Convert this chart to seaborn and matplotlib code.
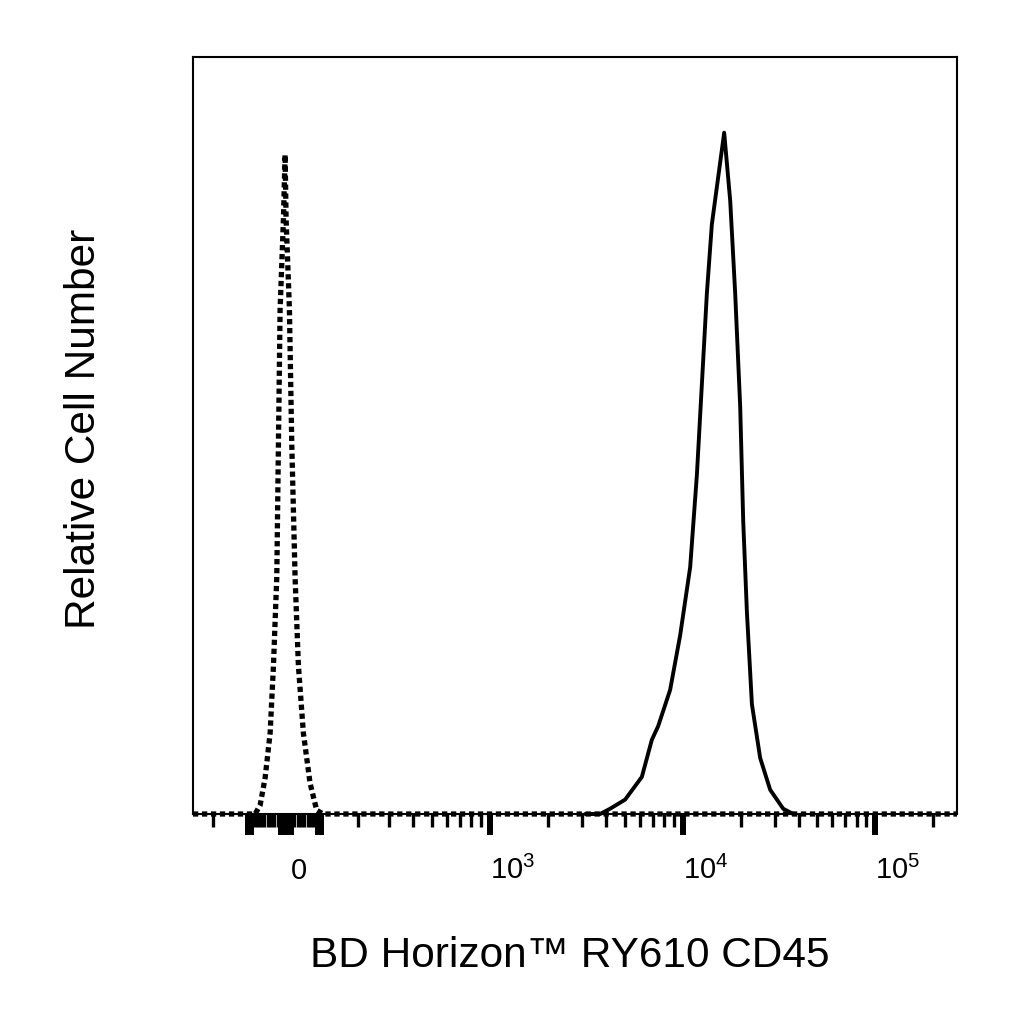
import numpy as np
import pandas as pd
import matplotlib
matplotlib.use("Agg")
import matplotlib.pyplot as plt
import seaborn as sns

# isotype control (dotted) - fluorescence values and relative counts
control_x = [-295, -108, -93, -78, -63, -53, -43, -38, -33, -23, -18,
             -15, -5, 2, 12, 22, 37, 57, 77, 96, 266000]
control_y = [0, 0, 1.2, 4.8, 10.7, 19.6, 31.3, 49.0, 66.7, 78.6, 87.1,
             78.6, 66.7, 49.0, 31.3, 19.6, 10.7, 4.1, 0.5, 0, 0]

# CD45 stained cells (solid)
stained_x = [3116, 3727, 4202, 5026, 6138, 6918, 7460, 8610, 9705, 10940,
             11855, 12585, 13360, 14180, 15290, 16430, 17660, 18740, 19900,
             20630, 21560, 22890, 25270, 28480, 33270, 37500]
stained_y = [0, 0, 0.7, 1.9, 4.9, 9.8, 11.6, 16.4, 23.6, 32.6,
             44.8, 56.8, 68.8, 77.9, 84.1, 90.0, 81.0, 68.8, 53.8,
             38.7, 26.7, 14.5, 7.4, 3.2, 0.7, 0]

# axis ticks
major_ticks = [-130, -120, -30, -20, -10, 0, 80, 90, 1e3, 1e4, 1e5]
major_labels = ["", "", "", "", "", "0", "", "",
                r"$\mathregular{10^{3}}$", r"$\mathregular{10^{4}}$",
                r"$\mathregular{10^{5}}$"]
minor_ticks = ([-235] + list(range(-110, -30, 10)) + list(range(10, 80, 10))
               + [m * 10 ** d for d in (2, 3, 4) for m in range(2, 10)] + [2e5])

# biexponential-like display: linear near zero, log above X0
X0 = 251.5
LOG_X0 = np.log10(X0)


def fwd(x):
    x = np.asarray(x, dtype=float)
    lin = LOG_X0 + (x - X0) / (X0 * np.log(10))
    return np.where(x >= X0, np.log10(np.maximum(x, X0)), lin)


def inv(y):
    y = np.asarray(y, dtype=float)
    lin = X0 + (y - LOG_X0) * X0 * np.log(10)
    return np.where(y >= LOG_X0, 10 ** np.clip(y, LOG_X0, 12), lin)


sns.set_style("ticks")
plt.rcParams["font.family"] = ["Liberation Sans", "DejaVu Sans"]
plt.rcParams["mathtext.fontset"] = "custom"
plt.rcParams["mathtext.rm"] = "Liberation Sans"
plt.rcParams["mathtext.it"] = "Liberation Sans:italic"
plt.rcParams["mathtext.bf"] = "Liberation Sans:bold"
plt.rcParams["text.color"] = "black"
plt.rcParams["axes.labelcolor"] = "black"
plt.rcParams["xtick.labelcolor"] = "black"

control = pd.DataFrame({"x": control_x, "y": control_y})
stained = pd.DataFrame({"x": stained_x, "y": stained_y})

fig, ax = plt.subplots(figsize=(10.24, 10.24), dpi=100)
fig.subplots_adjust(left=193 / 1024, right=957 / 1024,
                    bottom=1 - 814 / 1024, top=1 - 57 / 1024)

sns.lineplot(data=stained, x="x", y="y", sort=False, estimator=None,
             color="black", linewidth=2.8, ax=ax)
sns.lineplot(data=control, x="x", y="y", sort=False, estimator=None,
             color="black", linewidth=3.8, linestyle=(0, (1.0, 0.7)),
             dash_capstyle="butt", ax=ax)
for line in ax.lines:
    line.set_clip_on(False)

ax.set_xscale("function", functions=(fwd, inv))
ax.set_xlim(-295, 266000)
ax.set_ylim(0, 100)
ax.set_yticks([])

ax.set_xticks(major_ticks, labels=major_labels)
ax.set_xticks(minor_ticks, minor=True)
ax.tick_params(axis="x", which="major", length=15, width=4.3, pad=32,
               labelsize=21, color="black", labelcolor="black",
               direction="out")
ax.tick_params(axis="x", which="minor", length=9.4, width=2.4,
               color="black", direction="out")
for lbl in ax.get_xticklabels():
    lbl.set_ha("left")
    lbl.set_va("baseline")

for side in ["left", "right", "top", "bottom"]:
    ax.spines[side].set_visible(True)
    ax.spines[side].set_color("black")
    ax.spines[side].set_linewidth(1.5)

ax.set_xlabel("BD Horizon™ RY610 CD45", fontsize=30.5, va="baseline",
              color="black")
ax.xaxis.set_label_coords((570 - 193) / 764, (814 - 967) / 757)
ax.set_ylabel("Relative Cell Number", fontsize=30.5, va="baseline",
              color="black")
ax.yaxis.set_label_coords((95 - 193) / 764, (814 - 429) / 757)

fig.savefig("out.png", dpi=100, facecolor="white")
